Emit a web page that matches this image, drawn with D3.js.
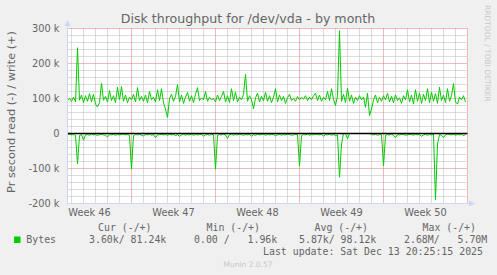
<!DOCTYPE html>
<html><head><meta charset="utf-8">
<script src="https://cdn.jsdelivr.net/npm/d3@7"></script>
<style>
body{margin:0;background:#F0F0F0}
svg{display:block}
text{font-family:"DejaVu Sans",sans-serif;fill:#666}
.mono{font-family:"DejaVu Sans Mono",monospace;white-space:pre}
</style>
</head><body><svg id="c" width="497" height="275"></svg>
<script>
// ---- data ----
const title = "Disk throughput for /dev/vda - by month";
const yAxisLabel = "Pr second read (-) / write (+)";
const startTime = Date.UTC(2025, 10, 10, 16, 0, 0);
const spanHours = 800;
const stepHours = 4;
// write bytes/s (thousands), one value every 4 hours
const writeK = [
 95,100,92,104,90,245,95,110,88,108,
 92,114,90,112,84,76,88,143,95,106,
 90,123,94,108,88,132,96,134,92,110,
 88,104,96,112,90,131,94,106,92,110,
 88,120,96,104,90,125,94,128,88,70,
 46,100,112,92,106,140,90,110,86,104,
 117,92,108,88,112,131,94,102,96,120,
 92,104,96,100,90,110,94,106,120,90,
 108,88,128,94,118,90,104,96,112,169,
 92,108,96,71,102,115,90,106,94,118,
 92,108,88,104,128,90,110,94,106,86,
 102,112,94,100,92,106,96,104,98,108,
 94,104,96,108,115,94,110,92,104,96,
 120,94,128,98,80,108,294,92,112,88,
 130,92,110,86,104,94,108,96,104,75,
 115,51,70,96,110,88,104,92,108,96,
 115,90,106,88,110,94,102,86,108,96,
 125,90,110,84,125,92,116,86,112,94,
 128,88,118,92,114,86,132,94,110,88,
 128,92,108,143,90,84,104,96,108,90
];
// read bytes/s (thousands), drawn negative
const readK = [
 3,2,4,3,5,87,6,3,19,4,
 3,5,2,4,3,6,3,2,4,5,
 10,3,4,2,5,3,4,3,2,4,
 3,5,102,6,3,4,2,5,7,3,
 4,2,5,3,12,4,3,2,4,3,
 5,2,4,3,6,3,8,4,2,5,
 3,4,2,5,3,4,3,2,8,4,
 3,5,2,4,102,5,3,4,2,4,
 14,3,2,5,3,4,2,3,5,3,
 4,2,8,3,5,2,4,3,2,5,
 3,4,2,3,7,4,2,5,3,4,
 2,3,5,4,2,3,93,6,3,4,
 2,5,3,4,2,3,4,2,8,3,
 4,2,5,3,6,4,125,30,0,0,
 15,0,0,0,0,0,0,0,0,0,
 0,0,3,4,2,5,3,4,93,5,
 3,4,2,5,12,3,4,2,3,5,
 4,2,3,5,2,4,3,8,4,2,
 5,3,4,2,190,30,3,5,12,4,
 2,3,4,2,5,3,4,2,6,3
];
const yTicks = [-200000, -100000, 0, 100000, 200000, 300000];
const seriesName = "Bytes";
const legendHeaders = ["Cur (-/+)", "Min (-/+)", "Avg (-/+)", "Max (-/+)"];
const legendValues = ["3.60k/ 81.24k", "0.00 /   1.96k", "5.87k/ 98.12k", "2.68M/   5.70M"];
const lastUpdate = "Last update: Sat Dec 13 20:25:15 2025";
const watermark = "Munin 2.0.57";
const sideText = "RRDTOOL / TOBI OETIKER";

// ---- drawing ----
const svg = d3.select("#c");
const green = "#00CC00";
const L = 67.5, R = 467.5, T = 28.5, B = 203.5;
const t0 = new Date(startTime), t1 = new Date(startTime + spanHours * 3600e3);
const x = d3.scaleUtc().domain([t0, t1]).range([L, R]);
const y = d3.scaleLinear().domain([-200000, 300000]).range([B, T]);
const timeAt = i => new Date(startTime + i * stepHours * 3600e3);

svg.append("rect").attr("width", 497).attr("height", 275).attr("fill", "#F0F0F0");
svg.append("rect").attr("x", L - 0.5).attr("y", T - 0.5).attr("width", R - L + 1).attr("height", B - T + 1).attr("fill", "#fff");

const grid = svg.append("g").attr("fill", "none").attr("stroke-width", 1).attr("stroke-dasharray", "1,1");
const weeks = d3.utcSunday.range(t0, new Date(+t1 + 1));
const weekSet = new Set(weeks.map(d => +d));
const days = d3.utcDay.range(t0, new Date(+t1 + 1)).filter(d => !weekSet.has(+d));
const minCol = "#b8b8b8", majCol = "#e07878";
grid.selectAll(".vmin").data(days).join("line")
  .attr("x1", d => x(d)).attr("x2", d => x(d)).attr("y1", T).attr("y2", B).attr("stroke", minCol);
const minorY = d3.range(-200000, 300001, 20000).filter(v => v % 100000 !== 0);
grid.selectAll(".hmin").data(minorY).join("line")
  .attr("x1", L).attr("x2", R).attr("y1", d => y(d)).attr("y2", d => y(d)).attr("stroke", minCol);
grid.selectAll(".vmaj").data(weeks).join("line")
  .attr("x1", d => x(d)).attr("x2", d => x(d)).attr("y1", T).attr("y2", B).attr("stroke", majCol);
grid.selectAll(".hmaj").data(yTicks).join("line")
  .attr("x1", L).attr("x2", R).attr("y1", d => y(d)).attr("y2", d => y(d)).attr("stroke", majCol);

const line = d3.line().x((d, i) => x(timeAt(i))).y(d => y(d));
svg.append("path").datum(readK.map(v => -v * 1000)).attr("d", line)
  .attr("fill", "none").attr("stroke", green).attr("stroke-width", 1);
svg.append("path").datum(writeK.map(v => v * 1000)).attr("d", line)
  .attr("fill", "none").attr("stroke", green).attr("stroke-width", 1);
svg.append("line").attr("x1", L).attr("x2", R).attr("y1", y(0)).attr("y2", y(0))
  .attr("stroke", "#000").attr("stroke-width", 1.3);

// axes
const axisCol = "#CFD6F8";
svg.append("line").attr("x1", L).attr("x2", L).attr("y1", B + 1).attr("y2", 24).attr("stroke", axisCol);
svg.append("line").attr("x1", L - 1).attr("x2", 470).attr("y1", B).attr("y2", B).attr("stroke", axisCol);
svg.append("path").attr("d", `M${L - 3},26 L${L + 3},26 L${L},20 Z`).attr("fill", axisCol);
svg.append("path").attr("d", `M469,${B - 3} L469,${B + 3} L475,${B} Z`).attr("fill", axisCol);

// y tick labels
const fmt = v => v === 0 ? "0" : (v / 1000) + " k";
svg.selectAll(".yt").data(yTicks).join("text")
  .attr("x", 59.5).attr("y", d => y(d) + 3.6).attr("text-anchor", "end")
  .attr("font-size", 9.8).text(fmt);

// week labels
const weekLabelTimes = d3.utcSunday.range(d3.utcSunday.floor(t0), t1)
  .map(d => new Date(+d + 3.5 * 86400e3)).filter(d => +d <= +t1);
svg.selectAll(".wl").data(weekLabelTimes).join("text")
  .attr("x", d => x(d)).attr("y", 216).attr("text-anchor", "middle")
  .attr("font-size", 9.8).text(d => "Week " + d3.utcFormat("%V")(d));

// title & y label
svg.append("text").attr("x", 248).attr("y", 23).attr("text-anchor", "middle")
  .attr("font-size", 12.6).text(title);
svg.append("text").attr("transform", "translate(15,112) rotate(-90)").attr("text-anchor", "middle")
  .attr("font-size", 11.3).text(yAxisLabel);

// legend
const hdrX = [98, 206.5, 314.5, 422.5];
const valX = [89, 194, 299, 404];
svg.selectAll(".lh").data(legendHeaders).join("text").attr("class", "mono")
  .attr("x", (d, i) => hdrX[i]).attr("y", 231).attr("font-size", 9.9).text(d => d);
svg.append("rect").attr("x", 14).attr("y", 236.5).attr("width", 6.5).attr("height", 6.5).attr("fill", green);
svg.append("text").attr("class", "mono").attr("x", 26.3).attr("y", 243).attr("font-size", 9.9).text(seriesName);
svg.selectAll(".lv").data(legendValues).join("text").attr("class", "mono")
  .attr("x", (d, i) => valX[i]).attr("y", 243).attr("font-size", 9.9).text(d => d);
svg.append("text").attr("class", "mono").attr("x", 483).attr("y", 254.5).attr("text-anchor", "end")
  .attr("font-size", 9.9).text(lastUpdate);
svg.append("text").attr("x", 248).attr("y", 267).attr("text-anchor", "middle")
  .attr("font-size", 7.5).style("fill", "#c8c8c8").text(watermark);
svg.append("text").attr("transform", "translate(485,5) rotate(90)").attr("text-anchor", "start")
  .attr("font-size", 7.5).style("fill", "#c8c8c8").text(sideText);
</script>
</body></html>
